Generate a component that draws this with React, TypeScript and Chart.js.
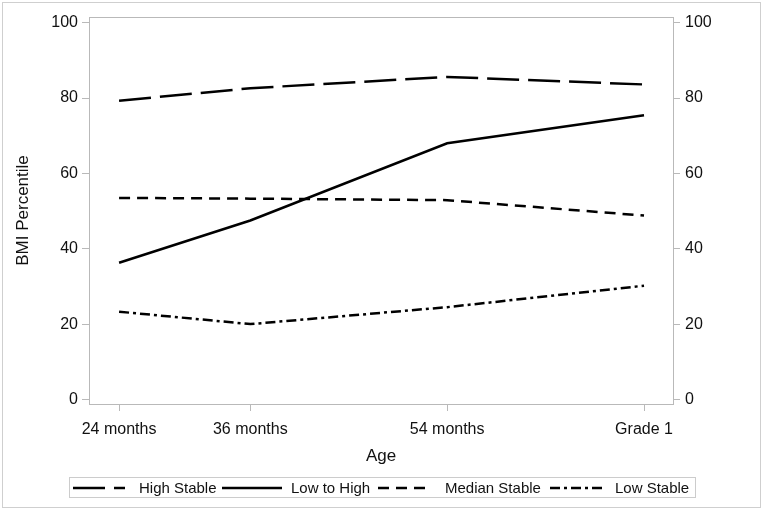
import React, { useEffect, useRef } from "react";
import { Chart, registerables } from "chart.js";

Chart.register(...registerables);

// ---- data ----
const ageMonths = [24, 36, 54, 72];
const ageLabels = ["24 months", "36 months", "54 months", "Grade 1"];
const yTickValues = [0, 20, 40, 60, 80, 100];
const seriesNames = ["High Stable", "Low to High", "Median Stable", "Low Stable"];
const highStable = [79.3, 82.6, 85.6, 83.6];
const lowToHigh = [36.3, 47.5, 68.0, 75.4];
const medianStable = [53.5, 53.3, 52.9, 48.8];
const lowStable = [23.3, 20.0, 24.5, 30.2];

const seriesValues = [highStable, lowToHigh, medianStable, lowStable];
const dashes = [[32, 9], [], [11, 7], [10, 4, 3, 4]];

const FONT = "'Liberation Sans', Arial, sans-serif";
const GRAY = "#b9b9b9";

const framePlugin = {
  id: "frame",
  afterDraw(chart: any) {
    const { ctx, chartArea } = chart;
    ctx.save();
    ctx.strokeStyle = GRAY;
    ctx.lineWidth = 1;
    ctx.strokeRect(
      Math.round(chartArea.left) + 0.5,
      Math.round(chartArea.top) + 0.5,
      Math.round(chartArea.right - chartArea.left),
      Math.round(chartArea.bottom - chartArea.top)
    );
    // outer frame
    ctx.strokeStyle = "#cfcfcf";
    ctx.strokeRect(2.5, 2.5, 758, 505);
    // legend
    ctx.strokeStyle = "#cccccc";
    ctx.strokeRect(69.5, 477.5, 626, 20);
    const samples = [
      [73, 125],
      [222, 282],
      [378, 430],
      [550, 606],
    ];
    const textX = [139, 291, 445, 615];
    const y = 488;
    ctx.font = `15px ${FONT}`;
    ctx.textBaseline = "middle";
    ctx.textAlign = "left";
    chart.data.datasets.forEach((ds: any, i: number) => {
      ctx.beginPath();
      ctx.setLineDash(ds.borderDash || []);
      ctx.lineDashOffset = 0;
      ctx.strokeStyle = "#000";
      ctx.lineWidth = 2.5;
      ctx.moveTo(samples[i][0], y);
      ctx.lineTo(samples[i][1], y);
      ctx.stroke();
      ctx.setLineDash([]);
      ctx.fillStyle = "#111";
      ctx.fillText(ds.label, textX[i], y + 0.5);
    });
    ctx.restore();
  },
};

export default function App() {
  const ref = useRef<HTMLCanvasElement | null>(null);

  useEffect(() => {
    document.body.style.margin = "0";
    const canvas = ref.current;
    if (!canvas) return;

    const datasets = seriesNames.map((name, i) => ({
      label: name,
      data: ageMonths.map((m, j) => ({ x: m, y: seriesValues[i][j] })),
      borderColor: "#000",
      borderWidth: 2.5,
      borderDash: dashes[i],
      pointRadius: 0,
      fill: false,
      tension: 0,
      yAxisID: "y",
    }));

    const yCommon = {
      type: "linear" as const,
      min: -1.2,
      max: 101.5,
      afterBuildTicks: (s: any) => {
        s.ticks = yTickValues.map((v) => ({ value: v }));
      },
      grid: {
        display: true,
        drawOnChartArea: false,
        drawTicks: true,
        tickLength: 7,
        color: GRAY,
        tickColor: GRAY,
      },
      border: { display: true, color: GRAY, width: 1 },
    };

    const chart = new Chart(canvas, {
      type: "line",
      data: { datasets },
      plugins: [framePlugin],
      options: {
        responsive: false,
        animation: false,
        layout: { padding: { left: 0, right: 0, top: 17, bottom: 0 } },
        plugins: {
          legend: { display: false },
          tooltip: { enabled: false },
        },
        scales: {
          x: {
            type: "linear",
            min: 21.25,
            max: 74.65,
            afterBuildTicks: (s: any) => {
              s.ticks = ageMonths.map((v) => ({ value: v }));
            },
            afterFit: (s: any) => {
              s.height = 511 - 404;
            },
            ticks: {
              autoSkip: false,
              maxRotation: 0,
              padding: 9,
              color: "#111",
              font: { family: FONT, size: 16 },
              callback: (v: any) => {
                const idx = ageMonths.indexOf(Number(v));
                return idx >= 0 ? ageLabels[idx] : "";
              },
            },
            title: {
              display: true,
              text: "Age",
              color: "#111",
              font: { family: FONT, size: 17 },
              padding: { top: 0, bottom: 44 },
            },
            grid: {
              display: true,
              drawOnChartArea: false,
              drawTicks: true,
              tickLength: 7,
              color: GRAY,
              tickColor: GRAY,
            },
            border: { display: true, color: GRAY, width: 1 },
          },
          y: {
            ...yCommon,
            position: "left",
            afterFit: (s: any) => {
              s.width = 89;
            },
            ticks: {
              padding: 4,
              color: "#111",
              font: { family: FONT, size: 16 },
            },
            title: {
              display: true,
              text: "BMI Percentile",
              color: "#111",
              font: { family: FONT, size: 17 },
              padding: { top: 13, bottom: 0 },
            },
          },
          y2: {
            ...yCommon,
            position: "right",
            afterFit: (s: any) => {
              s.width = 764 - 673;
            },
            ticks: {
              padding: 5,
              color: "#111",
              font: { family: FONT, size: 16 },
            },
          },
        },
      },
    } as any);

    return () => chart.destroy();
  }, []);

  return (
    <div style={{ position: "absolute", left: 0, top: 0, width: 764, height: 511, background: "#fff" }}>
      <canvas ref={ref} width={764} height={511} style={{ width: 764, height: 511, display: "block" }} />
    </div>
  );
}
